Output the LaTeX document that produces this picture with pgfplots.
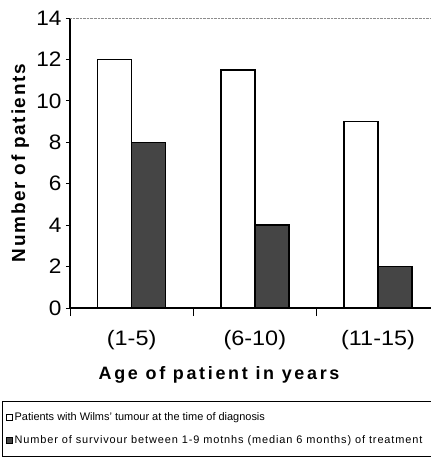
\documentclass[border=0pt]{standalone}
\usepackage{fontspec}
\setmainfont{Liberation Sans}
\usepackage{pgfplots}
\pgfplotsset{compat=1.18}
\definecolor{darkbar}{gray}{0.27}
\begin{document}
\begin{tikzpicture}
\begin{axis}[
  scale only axis, width=361bp, height=290bp,
  xmin=0.5, xmax=3.43, ymin=0, ymax=14,
  axis x line*=bottom, axis y line*=left,
  axis line style={line width=1.1bp},
  ybar=0pt, bar width=34bp,
  xtick={1,2,3}, xticklabels={(1-5),(6-10),(11-15)},
  minor xtick={0.5,1.5,2.5},
  major x tick style={draw=none},
  tick align=outside,
  major tick length=4bp, minor tick length=8bp,
  tick style={line width=0.8bp, black},
  ytick={0,2,...,14},
  /pgf/number format/assume math mode=true,
  yticklabel style={font=\fontsize{21}{21}\selectfont\addfontfeature{FakeStretch=1.08}, xshift=-1bp},
  xticklabel style={font=\fontsize{21}{21}\selectfont\addfontfeature{FakeStretch=1.12}, yshift=-15bp},
  extra y ticks={14}, extra y tick labels={},
  extra y tick style={grid=major, major grid style={densely dotted, black!45, line width=0.9bp}},
  ylabel={Number of patients},
  ylabel style={font=\bfseries\fontsize{19}{19}\selectfont\addfontfeature{LetterSpace=9}, at={(axis description cs:-0.138,0.5)}, anchor=center},
  xlabel={Age of patient in years},
  xlabel style={font=\bfseries\fontsize{18}{18}\selectfont\addfontfeature{LetterSpace=15}, at={(axis description cs:0.413,-0.231)}, anchor=center},
  legend style={at={(axis description cs:-0.188,-0.3207)}, anchor=north west, draw=black, line width=1bp,
    font=\fontsize{11}{12}\selectfont, row sep=10bp, inner xsep=3bp, inner ysep=9bp},
  legend cell align=left,
]
\addplot[draw=black, line width=1.5bp, fill=white,
  legend image code/.code={\draw[black, line width=1bp, fill=white] (0bp,-3bp) rectangle (6bp,3bp);}]
  coordinates {(1,12) (2,11.5) (3,9)};
\addlegendentry{\makebox[440bp][l]{Patients with Wilms' tumour at the time of diagnosis}}
\addplot[draw=black, line width=1.5bp, fill=darkbar,
  legend image code/.code={\draw[black, line width=1bp, fill=darkbar] (0bp,-3bp) rectangle (6bp,3bp);}]
  coordinates {(1,8) (2,4) (3,2)};
\addlegendentry{\makebox[440bp][l]{\addfontfeature{LetterSpace=8}Number of survivour between 1-9 motnhs (median 6 months) of treatment}\rule[-15bp]{0pt}{1bp}}
\end{axis}
\pgfresetboundingbox
\path[use as bounding box] (-70bp,-149bp) rectangle (361bp,308bp);
\end{tikzpicture}
\end{document}
